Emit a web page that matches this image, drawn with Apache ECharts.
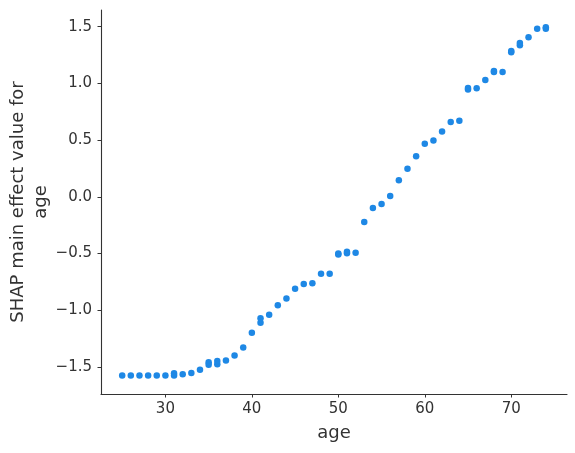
<!DOCTYPE html>
<html>
<head>
<meta charset="utf-8">
<script src="https://cdn.jsdelivr.net/npm/echarts@6/dist/echarts.min.js"></script>
<style>
html,body{margin:0;padding:0;background:#fff;}
#chart{width:575px;height:453px;}
</style>
</head>
<body>
<div id="chart"></div>
<script>
var ages = [25,26,27,28,29,30,31,32,33,34,35,36,37,38,39,40,41,42,43,44,45,46,47,48,49,50,51,52,53,54,55,56,57,58,59,60,61,62,63,64,65,66,67,68,69,70,71,72,73,74];
var shapVals = [-1.575,-1.575,-1.575,-1.575,-1.575,-1.575,-1.575,-1.564,-1.553,-1.526,-1.480,-1.477,-1.444,-1.400,-1.330,-1.200,-1.110,-1.040,-0.956,-0.897,-0.810,-0.770,-0.763,-0.678,-0.678,-0.510,-0.497,-0.494,-0.222,-0.100,-0.064,0.006,0.146,0.248,0.357,0.468,0.497,0.576,0.660,0.670,0.947,0.956,1.030,1.100,1.100,1.275,1.336,1.406,1.482,1.482];
var dupAges = [31,35,36,41,50,51,65,68,70,71,74];
var dupVals = [-1.555,-1.458,-1.447,-1.070,-0.500,-0.485,0.960,1.110,1.285,1.355,1.495];
var xTicks = [30,40,50,60,70];
var yTicks = [-1.5,-1.0,-0.5,0.0,0.5,1.0,1.5];

var pts = [];
for (var i = 0; i < ages.length; i++) pts.push([ages[i], shapVals[i]]);
for (var j = 0; j < dupAges.length; j++) pts.push([dupAges[j], dupVals[j]]);

function fmtY(v){ return (v < 0 ? '\u2212' : '') + Math.abs(v).toFixed(1); }

var chart = echarts.init(document.getElementById('chart'), null, {renderer:'canvas'});
var txt = '#333333';
chart.setOption({
  animation:false,
  backgroundColor:'#ffffff',
  textStyle:{fontFamily:'DejaVu Sans'},
  grid:{left:101, top:10, right:8, bottom:59, containLabel:false, outerBoundsMode:'none'},
  xAxis:{
    type:'value', min:22.55, max:76.45,
    name:'age', nameLocation:'middle', nameGap:30, nameMoveOverlap:false,
    nameTextStyle:{fontSize:18, color:txt, fontFamily:'DejaVu Sans'},
    axisLine:{show:true, onZero:false, lineStyle:{color:txt, width:1.1}},
    axisTick:{show:true, length:3.5, inside:false, customValues:xTicks, lineStyle:{color:txt, width:1}},
    axisLabel:{show:true, margin:8, fontSize:15, color:txt, fontFamily:'DejaVu Sans', customValues:xTicks, formatter:function(v){return String(v);}},
    splitLine:{show:false}
  },
  yAxis:{
    type:'value', min:-1.739, max:1.647,
    name:'SHAP main effect value for\nage', nameLocation:'middle', nameGap:48, nameRotate:90, nameMoveOverlap:false,
    nameTextStyle:{fontSize:18, color:txt, fontFamily:'DejaVu Sans', lineHeight:23, align:'center'},
    axisLine:{show:true, onZero:false, lineStyle:{color:txt, width:1.1}},
    axisTick:{show:true, length:3.5, inside:false, customValues:yTicks, lineStyle:{color:txt, width:1}},
    axisLabel:{show:true, margin:9, fontSize:15, color:txt, fontFamily:'DejaVu Sans', customValues:yTicks, formatter:fmtY},
    splitLine:{show:false}
  },
  series:[{
    type:'scatter',
    data:pts,
    symbol:'circle',
    symbolSize:6.5,
    itemStyle:{color:'#1E88E5', opacity:1},
    silent:true
  }]
});
</script>
</body>
</html>
